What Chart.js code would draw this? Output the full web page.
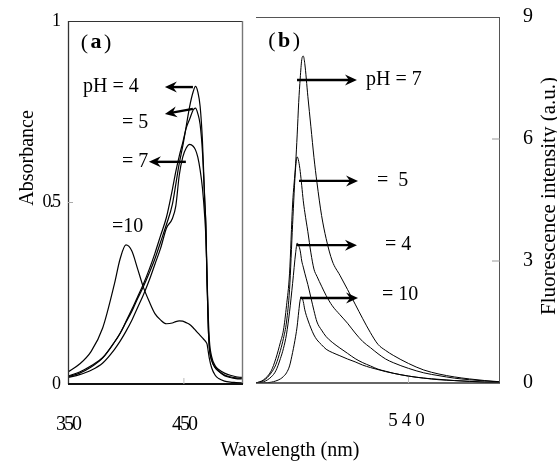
<!DOCTYPE html>
<html>
<head>
<meta charset="utf-8">
<script src="https://cdn.jsdelivr.net/npm/chart.js@4.4.1/dist/chart.umd.min.js"></script>
<style>
  body { margin: 0; background: #fff; }
  #wrap { position: relative; width: 557px; height: 464px; }
  #wrap canvas { position: absolute; left: 0; top: 0; }
</style>
</head>
<body>
<div id="wrap">
  <canvas id="absChart" width="557" height="464"></canvas>
  <canvas id="fluChart" width="557" height="464"></canvas>
</div>
<script>
// (a) absorbance spectra
const absWavelengths = [350, 360, 370, 380, 390, 395, 400, 405, 410, 415, 420, 425, 430, 435, 440, 443, 446, 449, 452, 455,
    458, 460, 462, 464, 466, 468, 469, 470, 471, 472, 474, 477, 480, 485, 490, 495, 500];
const absPH4 = [.022, .033, .05, .073, .115, .14, .17, .20, .235, .268, .305, .345, .392, .44, .494, .55, .608, .655, .71, .765,
    .805, .82, .805, .765, .67, .505, .436, .28, .16, .10, .065, .045, .035, .023, .018, .015, .014];
const absPH5 = [.02, .03, .047, .072, .115, .14, .172, .205, .24, .275, .315, .36, .41, .46, .535, .585, .628, .665, .705, .73,
    .755, .76, .745, .715, .64, .505, .43, .28, .16, .10, .065, .045, .036, .025, .02, .017, .016];
const absPH7 = [.018, .026, .038, .058, .095, .118, .145, .175, .21, .245, .285, .33, .375, .43, .455, .49, .575, .625, .65, .66,
    .655, .645, .625, .59, .54, .46, .40, .29, .19, .12, .075, .05, .04, .03, .024, .02, .018];
const absPH10 = [.033, .055, .09, .155, .275, .345, .383, .367, .318, .267, .228, .194, .176, .166, .168, .172, .174, .173, .169, .164,
    .155, .148, .141, .134, .127, .12, .116, .11, .09, .07, .044, .024, .015, .008, .005, .004, .003];
const absTicksX = [350, 450];
const absTicksY = [0, 0.5, 1];

// (b) fluorescence spectra
const fluWavelengths = [440, 445, 450, 453, 456, 458, 460, 462, 464, 466, 467, 468, 469, 470, 471, 472, 474, 476, 478, 480,
    483, 486, 490, 495, 500, 505, 510, 515, 520, 525, 530, 540, 550, 560, 570, 580, 590, 600];
const fluPH7 = [0, .08, .3, .6, 1.0, 1.3, 1.9, 2.7, 4.4, 5.4, 6.1, 6.9, 7.5, 7.95, 8.04, 7.85, 7.05, 6.3, 5.55, 4.92,
    4.12, 3.55, 3.0, 2.65, 2.3, 1.94, 1.58, 1.24, .95, .8, .68, .48, .32, .22, .15, .1, .06, .03];
const fluPH5 = [0, .06, .25, .45, .8, 1.1, 1.5, 2.3, 3.9, 5.3, 5.56, 5.45, 5.2, 4.85, 4.48, 4.2, 3.72, 3.2, 2.8, 2.62,
    2.38, 2.15, 1.9, 1.68, 1.47, 1.23, 1.02, .87, .72, .59, .5, .36, .25, .18, .12, .08, .05, .025];
const fluPH4 = [0, .03, .15, .3, .6, .85, 1.2, 1.75, 2.45, 3.2, 3.44, 3.38, 3.25, 3.0, 2.85, 2.7, 2.42, 2.1, 1.78, 1.5,
    1.3, 1.14, 1.0, .86, .73, .6, .5, .42, .34, .29, .24, .17, .12, .09, .06, .04, .02, .01];
const fluPH10 = [0, 0, .02, .05, .1, .16, .25, .42, .75, 1.15, 1.4, 1.75, 2.05, 2.11, 2.0, 1.8, 1.55, 1.35, 1.18, 1.06,
    .94, .83, .75, .67, .59, .52, .44, .38, .33, .28, .24, .17, .12, .08, .06, .04, .02, 0];
const fluTicksX = [540];
const fluTicksY = [0, 3, 6, 9];

const SERIF = '"Liberation Serif", "DejaVu Serif", serif';

function series(xs, ys, width) {
    return {
        data: xs.map((x, i) => ({ x: x, y: ys[i] })),
        borderColor: '#000',
        borderWidth: width,
        pointRadius: 0,
        cubicInterpolationMode: 'monotone',
        fill: false
    };
}

function arrow(ctx, x1, y1, x2, y2) {
    const a = Math.atan2(y2 - y1, x2 - x1);
    ctx.save();
    ctx.strokeStyle = '#000';
    ctx.fillStyle = '#000';
    ctx.lineWidth = 2.4;
    ctx.beginPath();
    ctx.moveTo(x1, y1);
    ctx.lineTo(x2 - Math.cos(a) * 6, y2 - Math.sin(a) * 6);
    ctx.stroke();
    ctx.translate(x2, y2);
    ctx.rotate(a);
    ctx.beginPath();
    ctx.moveTo(0, 0);
    ctx.lineTo(-12, -5.5);
    ctx.lineTo(-8, 0);
    ctx.lineTo(-12, 5.5);
    ctx.closePath();
    ctx.fill();
    ctx.restore();
}

// "(a)" / "(b)": plain brackets, bold letter, loosely set
function panelLabel(ctx, x, y, letter) {
    const gap = 2.5;
    ctx.font = '22px ' + SERIF;
    ctx.fillText('(', x, y);
    let w = ctx.measureText('(').width + gap;
    ctx.font = 'bold 22px ' + SERIF;
    ctx.fillText(letter, x + w, y);
    w += ctx.measureText(letter).width + gap;
    ctx.font = '22px ' + SERIF;
    ctx.fillText(')', x + w, y);
}

function line(ctx, x1, y1, x2, y2, color, width) {
    ctx.strokeStyle = color;
    ctx.lineWidth = width;
    ctx.beginPath();
    ctx.moveTo(x1, y1);
    ctx.lineTo(x2, y2);
    ctx.stroke();
}

// keep the plot area exactly where padding puts it
function fixY(width) {
    return s => { s.width = width; s.paddingTop = 0; s.paddingBottom = 0; };
}
function fixX(height) {
    return s => { s.height = height; s.paddingLeft = 0; s.paddingRight = 0; };
}

// frame, small inner ticks and the pH notes of panel (a)
const absDecor = {
    id: 'absDecor',
    beforeDraw(chart) { chart.ctx.letterSpacing = '-2px'; },
    afterDraw(chart) {
        const { ctx, chartArea: c, scales: { x, y } } = chart;
        ctx.save();
        ctx.letterSpacing = '0px';
        line(ctx, c.left + 0.5, c.top, c.left + 0.5, c.bottom, '#333', 1.3);
        line(ctx, c.left, c.top + 0.5, c.right, c.top + 0.5, '#333', 1.2);
        line(ctx, c.right - 0.5, c.top, c.right - 0.5, c.bottom, '#777', 1.4);
        line(ctx, c.left, c.bottom, c.right, c.bottom, '#111', 2);
        line(ctx, c.left, y.getPixelForValue(0.5), c.left + 5, y.getPixelForValue(0.5), '#aaa', 1);
        line(ctx, x.getPixelForValue(450), c.bottom, x.getPixelForValue(450), c.bottom - 6, '#bbb', 1);

        ctx.fillStyle = '#000';
        ctx.textBaseline = 'middle';
        ctx.textAlign = 'left';
        panelLabel(ctx, x.getPixelForValue(361), y.getPixelForValue(0.94), 'a');
        ctx.font = '20px ' + SERIF;
        ctx.fillText('pH = 4', x.getPixelForValue(363), y.getPixelForValue(0.818));
        ctx.fillText('= 5', x.getPixelForValue(396.5), y.getPixelForValue(0.719));
        ctx.fillText('= 7', x.getPixelForValue(396.5), y.getPixelForValue(0.612));
        ctx.fillText('=10', x.getPixelForValue(388), y.getPixelForValue(0.433));
        arrow(ctx, x.getPixelForValue(457.8), y.getPixelForValue(0.818), x.getPixelForValue(433.6), y.getPixelForValue(0.818));
        arrow(ctx, x.getPixelForValue(457.8), y.getPixelForValue(0.758), x.getPixelForValue(433.6), y.getPixelForValue(0.744));
        arrow(ctx, x.getPixelForValue(451.7), y.getPixelForValue(0.612), x.getPixelForValue(419.8), y.getPixelForValue(0.612));

        ctx.save();
        ctx.translate(28, 158);
        ctx.rotate(-Math.PI / 2);
        ctx.textAlign = 'center';
        ctx.fillText('Absorbance', 0, 0);
        ctx.restore();
        ctx.restore();
    }
};

// frame, ticks, titles and notes of panel (b)
const fluDecor = {
    id: 'fluDecor',
    beforeDraw(chart) { chart.ctx.letterSpacing = '4px'; },
    afterDraw(chart) {
        const { ctx, chartArea: c, scales: { x, y } } = chart;
        ctx.save();
        ctx.letterSpacing = '0px';
        line(ctx, c.left, c.top + 0.5, c.right, c.top + 0.5, '#555', 1);
        line(ctx, c.right - 0.5, c.top, c.right - 0.5, c.bottom, '#555', 1);
        line(ctx, c.left, c.bottom, c.right, c.bottom, '#333', 1.5);
        [3, 6].forEach(v => line(ctx, c.right - 8, y.getPixelForValue(v), c.right, y.getPixelForValue(v), '#999', 1));
        line(ctx, x.getPixelForValue(540), c.bottom, x.getPixelForValue(540), c.bottom - 6, '#bbb', 1);

        ctx.fillStyle = '#000';
        ctx.textBaseline = 'middle';
        ctx.textAlign = 'left';
        panelLabel(ctx, x.getPixelForValue(448), y.getPixelForValue(8.4), 'b');
        ctx.font = '20px ' + SERIF;
        ctx.fillText('pH = 7', x.getPixelForValue(512.1), y.getPixelForValue(7.45));
        ctx.fillText('=  5', x.getPixelForValue(519.3), y.getPixelForValue(4.97));
        ctx.fillText('= 4', x.getPixelForValue(524.6), y.getPixelForValue(3.39));
        ctx.fillText('= 10', x.getPixelForValue(522.6), y.getPixelForValue(2.16));
        arrow(ctx, x.getPixelForValue(466.9), y.getPixelForValue(7.45), x.getPixelForValue(506.2), y.getPixelForValue(7.45));
        arrow(ctx, x.getPixelForValue(468.2), y.getPixelForValue(4.97), x.getPixelForValue(506.9), y.getPixelForValue(4.97));
        arrow(ctx, x.getPixelForValue(466.9), y.getPixelForValue(3.39), x.getPixelForValue(506.2), y.getPixelForValue(3.39));
        arrow(ctx, x.getPixelForValue(468.9), y.getPixelForValue(2.09), x.getPixelForValue(506.9), y.getPixelForValue(2.09));

        ctx.textAlign = 'center';
        ctx.fillText('Wavelength (nm)', 290, 451);
        ctx.save();
        ctx.translate(549, 196);
        ctx.rotate(-Math.PI / 2);
        ctx.font = '21px ' + SERIF;
        ctx.fillText('Fluorescence intensity (a.u.)', 0, 0);
        ctx.restore();
        ctx.restore();
    }
};

const common = {
    responsive: false,
    animation: false,
    events: [],
    plugins: { legend: { display: false }, tooltip: { enabled: false } }
};

new Chart(document.getElementById('absChart').getContext('2d'), {
    type: 'line',
    data: {
        datasets: [
            series(absWavelengths, absPH4, 1.2),
            series(absWavelengths, absPH5, 1.2),
            series(absWavelengths, absPH7, 1.2),
            series(absWavelengths, absPH10, 1.2)
        ]
    },
    options: {
        ...common,
        layout: { padding: { left: 0, top: 21, right: 314, bottom: 0 } },
        scales: {
            x: {
                type: 'linear', min: 350, max: 501,
                afterBuildTicks: s => { s.ticks = absTicksX.map(v => ({ value: v })); },
                afterFit: fixX(80),
                grid: { display: false, drawTicks: false },
                border: { display: false },
                ticks: { color: '#000', font: { family: SERIF, size: 20 }, padding: 29, maxRotation: 0, autoSkip: false }
            },
            y: {
                type: 'linear', min: 0, max: 1,
                afterBuildTicks: s => { s.ticks = absTicksY.map(v => ({ value: v })); },
                afterFit: fixY(68),
                grid: { display: false, drawTicks: false },
                border: { display: false },
                ticks: { color: '#000', font: { family: SERIF, size: 18 }, padding: 9, callback: v => String(v) }
            }
        }
    },
    plugins: [absDecor]
});

new Chart(document.getElementById('fluChart').getContext('2d'), {
    type: 'line',
    data: {
        datasets: [
            series(fluWavelengths, fluPH7, 1),
            series(fluWavelengths, fluPH5, 1),
            series(fluWavelengths, fluPH4, 1),
            series(fluWavelengths, fluPH10, 1)
        ]
    },
    options: {
        ...common,
        layout: { padding: { left: 256, top: 17, right: 0, bottom: 0 } },
        scales: {
            x: {
                type: 'linear', min: 440, max: 600,
                afterBuildTicks: s => { s.ticks = fluTicksX.map(v => ({ value: v })); },
                afterFit: fixX(81),
                grid: { display: false, drawTicks: false },
                border: { display: false },
                ticks: { color: '#000', font: { family: SERIF, size: 19 }, padding: 27, maxRotation: 0, autoSkip: false }
            },
            y: {
                type: 'linear', position: 'right', min: 0, max: 9,
                afterBuildTicks: s => { s.ticks = fluTicksY.map(v => ({ value: v })); },
                afterFit: fixY(57),
                grid: { display: false, drawTicks: false },
                border: { display: false },
                ticks: { color: '#000', font: { family: SERIF, size: 20 }, padding: 23, callback: v => String(v) }
            }
        }
    },
    plugins: [fluDecor]
});
</script>
</body>
</html>
